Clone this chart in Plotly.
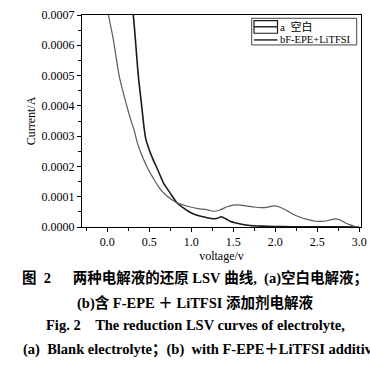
import plotly.graph_objects as go

# ---- data ----
voltage_a = [0.28, 0.31, 0.37, 0.41, 0.44, 0.46, 0.50, 0.55, 0.60, 0.67, 0.75, 0.83, 0.91, 0.99,
             1.07, 1.14, 1.20, 1.26, 1.31, 1.36, 1.41, 1.46, 1.52, 1.60, 1.70, 1.83, 2.00, 2.20,
             2.40, 2.60, 2.80, 3.00]
current_a = [7.5e-4, 7.0e-4, 5.0e-4, 4.0e-4, 3.25e-4, 2.9e-4, 2.55e-4, 2.2e-4, 1.9e-4, 1.45e-4,
             1.12e-4, 0.80e-4, 0.62e-4, 0.48e-4, 0.39e-4, 0.34e-4, 0.30e-4, 0.27e-4, 0.29e-4,
             0.34e-4, 0.27e-4, 0.19e-4, 0.14e-4, 0.09e-4, 0.05e-4, 0.03e-4, 0.015e-4, 0.01e-4,
             0.008e-4, 0.005e-4, 0.003e-4, 0.0]

voltage_b = [-0.01, 0.015, 0.067, 0.145, 0.224, 0.28, 0.32, 0.36, 0.40, 0.48, 0.55, 0.62, 0.70,
             0.83, 0.99, 1.10, 1.18, 1.26, 1.34, 1.42, 1.50, 1.56, 1.65, 1.75, 1.82, 1.90, 1.99,
             2.05, 2.13, 2.20, 2.28, 2.38, 2.48, 2.58, 2.65, 2.71, 2.77, 2.83, 2.90, 2.97]
current_b = [7.5e-4, 7.0e-4, 6.28e-4, 4.96e-4, 4.09e-4, 3.54e-4, 3.2e-4, 2.77e-4, 2.45e-4,
             1.95e-4, 1.6e-4, 1.29e-4, 1.05e-4, 0.80e-4, 0.66e-4, 0.60e-4, 0.576e-4, 0.52e-4,
             0.56e-4, 0.66e-4, 0.72e-4, 0.73e-4, 0.70e-4, 0.66e-4, 0.64e-4, 0.65e-4, 0.70e-4,
             0.66e-4, 0.55e-4, 0.44e-4, 0.34e-4, 0.25e-4, 0.19e-4, 0.19e-4, 0.23e-4, 0.27e-4,
             0.23e-4, 0.14e-4, 0.06e-4, 0.0]

name_a = "a\u00a0\u00a0空白"
name_b = "bF-EPE+LiTFSI"

x_ticks = [0.0, 0.5, 1.0, 1.5, 2.0, 2.5, 3.0]
y_ticks = [0.0, 0.0001, 0.0002, 0.0003, 0.0004, 0.0005, 0.0006, 0.0007]

NB = "\u00a0"
caption_lines = [
    "图" + NB * 2 + "2" + NB * 6 + "两种电解液的还原" + NB + "LSV" + NB + "曲线," + NB * 2 + "(a)空白电解液；",
    "(b)含" + NB + "F-EPE" + NB + "＋" + NB + "LiTFSI" + NB + "添加剂电解液",
    "Fig." + NB + "2" + NB * 4 + "The reduction LSV curves of electrolyte,",
    "(a)" + NB * 2 + "Blank electrolyte；" + "(b)" + NB * 2 + "with F-EPE＋LiTFSI additive",
]

# ---- layout helpers (window pixel -> paper) ----
W, H = 370, 369
L, R, T, B = 82, 361, 15, 227.5
def px(x):
    return (x - L) / (R - L)
def py(y):
    return (B - y) / (B - T)

SERIF = "Liberation Serif, Times New Roman, Noto Sans CJK SC, serif"

fig = go.Figure()
fig.add_trace(go.Scatter(x=voltage_a, y=current_a, mode="lines", name=name_a, showlegend=False,
                         line=dict(color="#1a1a1a", width=1.6, shape="spline", smoothing=0.6)))
fig.add_trace(go.Scatter(x=voltage_b, y=current_b, mode="lines", name=name_b, showlegend=False,
                         line=dict(color="#5a5a5a", width=1.2, shape="spline", smoothing=0.6)))

axis_common = dict(showline=True, linecolor="black", linewidth=1, mirror=True,
                   ticks="outside", ticklen=4, tickcolor="black", showgrid=False,
                   zeroline=False, automargin=False,
                   tickfont=dict(family=SERIF, size=12, color="black"))

fig.update_xaxes(range=[-0.3, 3.02], tickvals=x_ticks, ticktext=[f"{v:.1f}" for v in x_ticks],
                 minor=dict(ticks="outside", ticklen=3, dtick=0.25, tick0=0, tickcolor="black"),
                 title=dict(text="voltage/v", font=dict(family=SERIF, size=12, color="black"),
                            standoff=0),
                 **axis_common)
fig.update_yaxes(range=[0, 0.0007], tickvals=y_ticks, ticktext=[f"{v:.4f}" for v in y_ticks],
                 minor=dict(ticks="outside", ticklen=3, dtick=0.00005, tick0=0, tickcolor="black"),
                 title=dict(text="Current/A", font=dict(family=SERIF, size=12, color="black"),
                            standoff=3),
                 **axis_common)

annotations = []
cap_y = [279, 304, 326, 350]
for i, (txt, yy) in enumerate(zip(caption_lines, cap_y)):
    if i == 3:
        annotations.append(dict(text=f"<b>{txt}</b>", xref="paper", yref="paper",
                                x=px(21), y=py(yy), xanchor="left", yanchor="middle",
                                showarrow=False,
                                font=dict(family=SERIF, size=14.5, color="black")))
    else:
        annotations.append(dict(text=f"<b>{txt}</b>", xref="paper", yref="paper",
                                x=px(195), y=py(yy), xanchor="center", yanchor="middle",
                                showarrow=False,
                                font=dict(family=SERIF, size=14.5, color="black")))

# custom legend (box, symbols, labels)
shapes = [
    dict(type="rect", xref="paper", yref="paper", x0=px(251.7), x1=px(356.7),
         y0=py(45), y1=py(18.3), line=dict(color="#444", width=1), fillcolor="white", layer="above"),
    dict(type="rect", xref="paper", yref="paper", x0=px(254), x1=px(277.5),
         y0=py(33.3), y1=py(20.7), line=dict(color="#1a1a1a", width=1.2), layer="above"),
    dict(type="line", xref="paper", yref="paper", x0=px(254), x1=px(277.5),
         y0=py(26.8), y1=py(26.8), line=dict(color="#1a1a1a", width=1.4), layer="above"),
    dict(type="line", xref="paper", yref="paper", x0=px(254), x1=px(277.5),
         y0=py(40), y1=py(40), line=dict(color="#1a1a1a", width=1.4), layer="above"),
]
annotations.append(dict(text=name_a, xref="paper", yref="paper", x=px(278), y=py(27),
                        xanchor="left", yanchor="middle", showarrow=False,
                        font=dict(family=SERIF, size=11, color="black")))
annotations.append(dict(text=name_b, xref="paper", yref="paper", x=px(277.5), y=py(39.8),
                        xanchor="left", yanchor="middle", showarrow=False,
                        font=dict(family=SERIF, size=10.5, color="black")))

fig.update_layout(
    width=W, height=H,
    margin=dict(l=L, r=W - R, t=T, b=H - B, pad=0, autoexpand=False),
    paper_bgcolor="white", plot_bgcolor="white",
    showlegend=False,
    annotations=annotations,
    shapes=shapes,
)

fig.write_html("out.html", config={"displayModeBar": False},
               post_script="document.body.style.margin='0';document.body.style.overflow='hidden';")
